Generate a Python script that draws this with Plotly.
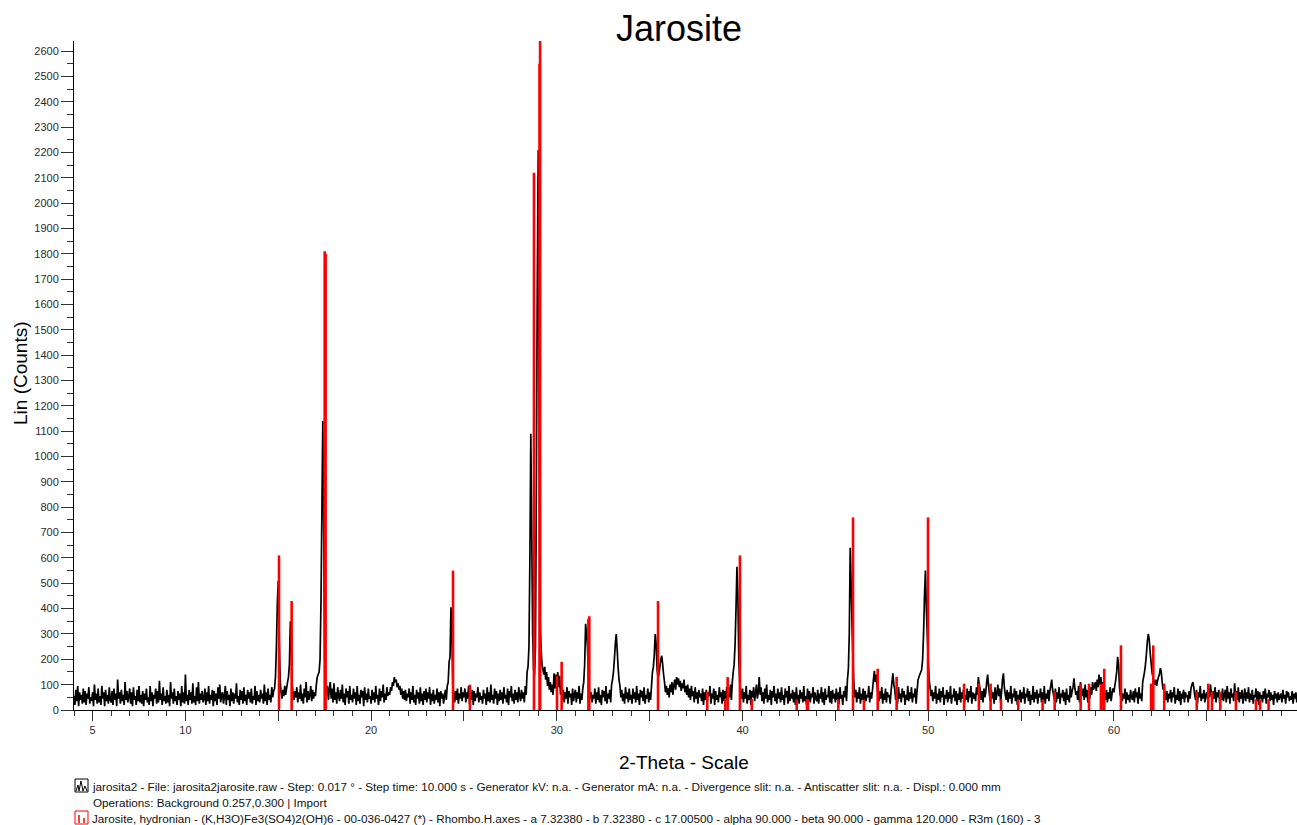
import plotly.graph_objects as go

# ---- measured scan (black trace): counts on a 0.05 deg 2-theta grid, one row per degree ----
scan_start = 4.0
scan_step = 0.05
count_rows = [
    [55, 20, 80, 35, 95, 15, 70, 40, 60, 25, 85, 30, 75, 20, 65, 45, 90, 25, 50, 35],            # 4
    [70, 15, 100, 40, 65, 25, 85, 30, 55, 20, 95, 45, 70, 15, 80, 35, 60, 25, 90, 40],           # 5
    [30, 75, 20, 85, 40, 65, 15, 120, 45, 70, 25, 80, 35, 60, 20, 110, 40, 75, 30, 55],          # 6
    [85, 25, 70, 15, 90, 40, 55, 20, 80, 35, 95, 30, 60, 25, 75, 15, 65, 40, 85, 30],            # 7
    [50, 20, 95, 35, 70, 15, 60, 45, 85, 25, 75, 30, 115, 40, 65, 20, 90, 35, 55, 25],           # 8
    [80, 30, 60, 15, 110, 45, 70, 25, 85, 35, 55, 20, 75, 40, 65, 15, 95, 30, 70, 25],           # 9
    [140, 35, 60, 20, 80, 40, 70, 25, 105, 30, 55, 20, 90, 35, 110, 25, 65, 40, 75, 30],         # 10
    [45, 85, 20, 70, 35, 95, 25, 60, 40, 80, 15, 75, 35, 65, 20, 90, 45, 100, 30, 60],           # 11
    [70, 25, 55, 95, 20, 75, 40, 60, 15, 85, 35, 70, 25, 65, 45, 105, 30, 55, 20, 80],           # 12
    [40, 75, 25, 90, 35, 60, 20, 80, 45, 70, 30, 85, 25, 55, 40, 95, 20, 75, 35, 60],            # 13
    [30, 80, 45, 65, 25, 100, 35, 70, 20, 85, 40, 60, 30, 90, 50, 75, 85, 130, 250, 420],        # 14
    [510, 300, 120, 70, 45, 80, 55, 95, 60, 85, 110, 130, 180, 350, 250, 100, 60, 40, 75, 50],   # 15
    [90, 30, 70, 45, 100, 35, 65, 25, 85, 50, 110, 30, 75, 40, 60, 95, 35, 80, 45, 70],          # 16
    [55, 100, 130, 140, 150, 200, 420, 800, 1140, 700, 200, 110, 70, 95, 40, 80, 110, 45, 85, 30],  # 17
    [105, 40, 70, 25, 90, 55, 35, 80, 45, 100, 30, 65, 20, 85, 50, 75, 25, 95, 40, 60],          # 18
    [30, 85, 45, 70, 20, 95, 35, 60, 25, 80, 50, 75, 15, 90, 40, 65, 30, 85, 45, 55],            # 19
    [25, 80, 40, 70, 30, 95, 45, 60, 20, 85, 35, 75, 50, 100, 30, 65, 40, 90, 55, 70],           # 20
    [60, 90, 75, 110, 95, 130, 110, 120, 90, 105, 80, 95, 60, 85, 45, 75, 40, 80, 35, 65],       # 21
    [50, 85, 25, 70, 40, 95, 30, 60, 20, 80, 45, 70, 25, 90, 35, 65, 20, 75, 40, 85],            # 22
    [30, 70, 45, 90, 20, 65, 35, 80, 25, 60, 40, 85, 30, 70, 15, 75, 45, 65, 25, 55],            # 23
    [80, 40, 95, 110, 190, 210, 405, 300, 100, 60, 30, 75, 40, 85, 25, 65, 45, 90, 35, 70],      # 24
    [50, 85, 30, 70, 45, 95, 25, 60, 40, 80, 20, 75, 35, 65, 50, 90, 30, 70, 40, 55],            # 25
    [25, 80, 45, 65, 20, 90, 35, 70, 30, 100, 40, 60, 25, 85, 45, 75, 20, 65, 35, 80],           # 26
    [40, 70, 25, 90, 45, 60, 30, 85, 20, 75, 50, 95, 35, 65, 25, 80, 40, 70, 30, 90],            # 27
    [55, 35, 80, 45, 70, 30, 95, 60, 150, 170, 250, 600, 1090, 700, 300, 160, 135, 250, 900, 1700],  # 28
    [2210, 1200, 350, 250, 180, 160, 140, 170, 120, 150, 95, 130, 80, 110, 70, 100, 60, 145, 85, 140],  # 29
    [70, 150, 90, 135, 60, 95, 40, 80, 30, 70, 45, 90, 25, 75, 50, 65, 20, 85, 35, 60],          # 30
    [80, 30, 70, 45, 95, 25, 65, 40, 85, 110, 180, 340, 300, 250, 150, 80, 45, 70, 30, 60],      # 31
    [45, 85, 25, 70, 40, 90, 30, 60, 20, 80, 50, 75, 35, 95, 25, 65, 45, 80, 30, 100],           # 32
    [120, 150, 200, 260, 300, 240, 170, 120, 95, 50, 80, 35, 65, 25, 90, 45, 70, 30, 85, 40],    # 33
    [60, 25, 85, 45, 70, 30, 95, 40, 65, 20, 80, 50, 75, 35, 90, 25, 60, 45, 85, 30],            # 34
    [70, 40, 95, 150, 170, 220, 300, 260, 160, 130, 140, 170, 200, 214, 180, 140, 110, 70, 95, 60],  # 35
    [85, 50, 100, 70, 110, 60, 95, 120, 80, 130, 100, 125, 90, 115, 75, 105, 85, 120, 70, 95],   # 36
    [60, 100, 50, 85, 40, 95, 55, 75, 30, 90, 45, 70, 25, 80, 50, 65, 35, 85, 20, 70],           # 37
    [40, 80, 30, 70, 55, 95, 25, 65, 45, 85, 20, 75, 40, 60, 30, 90, 50, 70, 25, 80],            # 38
    [35, 75, 45, 90, 25, 65, 50, 100, 40, 110, 150, 180, 260, 400, 565, 450, 200, 110, 70, 45],  # 39
    [85, 30, 70, 45, 95, 25, 60, 40, 80, 20, 75, 50, 90, 35, 65, 100, 45, 70, 130, 60],          # 40
    [90, 35, 70, 25, 85, 45, 100, 30, 60, 40, 80, 20, 75, 50, 95, 35, 65, 25, 85, 45],           # 41
    [70, 30, 90, 40, 60, 20, 85, 50, 75, 25, 95, 35, 65, 45, 80, 30, 70, 20, 90, 40],            # 42
    [60, 25, 80, 45, 70, 30, 95, 35, 55, 20, 85, 40, 75, 30, 65, 50, 90, 25, 70, 45],            # 43
    [35, 80, 25, 65, 45, 90, 30, 70, 20, 85, 40, 60, 50, 95, 30, 75, 25, 80, 45, 65],            # 44
    [30, 85, 40, 70, 25, 90, 45, 60, 20, 75, 50, 95, 35, 120, 160, 300, 640, 500, 330, 200],     # 45
    [100, 50, 80, 30, 70, 45, 90, 25, 65, 40, 85, 20, 75, 35, 60, 50, 95, 30, 70, 45],           # 46
    [80, 120, 155, 110, 140, 90, 60, 35, 75, 45, 90, 25, 65, 40, 85, 30, 70, 50, 60, 25],        # 47
    [75, 110, 145, 100, 80, 40, 70, 25, 90, 45, 65, 30, 85, 50, 75, 20, 60, 40, 95, 35],         # 48
    [70, 45, 90, 30, 65, 50, 85, 25, 75, 118, 130, 140, 150, 160, 200, 300, 450, 550, 400, 300], # 49
    [200, 120, 90, 55, 80, 35, 70, 45, 95, 25, 65, 40, 85, 30, 75, 50, 90, 20, 60, 45],          # 50
    [80, 30, 70, 45, 95, 25, 60, 50, 85, 35, 75, 20, 65, 40, 90, 30, 70, 45, 80, 25],            # 51
    [60, 40, 85, 30, 75, 50, 95, 25, 70, 45, 65, 35, 90, 60, 130, 100, 80, 40, 75, 30],          # 52
    [85, 50, 70, 110, 140, 95, 60, 35, 80, 45, 70, 25, 90, 40, 65, 100, 55, 85, 30, 70],         # 53
    [120, 145, 90, 60, 40, 80, 30, 70, 45, 95, 25, 65, 50, 85, 35, 75, 20, 60, 40, 80],          # 54
    [30, 70, 45, 90, 25, 65, 50, 85, 35, 75, 20, 60, 40, 95, 30, 70, 45, 80, 25, 65],            # 55
    [50, 85, 30, 70, 40, 95, 25, 65, 45, 80, 35, 75, 95, 120, 80, 60, 40, 85, 30, 70],           # 56
    [45, 90, 25, 65, 50, 80, 35, 70, 20, 85, 40, 60, 30, 95, 50, 75, 90, 125, 85, 60],           # 57
    [75, 40, 95, 30, 110, 70, 55, 85, 40, 100, 50, 80, 30, 75, 45, 90, 60, 110, 80, 95],         # 58
    [110, 75, 120, 90, 140, 100, 130, 85, 110, 70, 60, 40, 80, 30, 70, 45, 90, 35, 65, 85],      # 59
    [70, 95, 120, 150, 210, 180, 90, 55, 75, 35, 65, 45, 85, 25, 70, 40, 60, 30, 80, 50],        # 60
    [40, 75, 30, 85, 50, 70, 25, 90, 45, 65, 35, 110, 130, 150, 180, 220, 270, 300, 280, 230],   # 61
    [190, 150, 130, 110, 100, 120, 95, 115, 130, 140, 165, 150, 110, 80, 95, 60, 40, 75, 30, 65],  # 62
    [45, 80, 30, 70, 50, 90, 25, 60, 40, 85, 35, 75, 20, 65, 45, 80, 30, 70, 50, 60],            # 63
    [30, 75, 45, 85, 100, 110, 90, 60, 40, 80, 25, 70, 50, 95, 35, 65, 45, 80, 30, 60],          # 64
    [70, 40, 85, 50, 100, 65, 35, 75, 45, 90, 30, 70, 50, 80, 25, 65, 40, 85, 35, 60],           # 65
    [80, 30, 95, 45, 70, 25, 85, 50, 65, 35, 105, 60, 75, 40, 90, 30, 70, 45, 80, 25],           # 66
    [55, 85, 35, 70, 45, 90, 30, 65, 40, 80, 25, 60, 50, 85, 35, 75, 20, 70, 45, 60],            # 67
    [30, 75, 45, 85, 25, 65, 50, 80, 35, 70, 40, 60, 20, 75, 45, 65, 30, 70, 40, 55],            # 68
    [65, 30, 80, 45, 60, 25, 75, 50, 70, 35, 55, 40, 75, 25, 65, 45, 70, 30, 60, 50],            # 69
]
for row in count_rows:
    assert len(row) == 20, row
counts = [c for row in count_rows for c in row]
two_theta = [round(scan_start + scan_step * i, 3) for i in range(len(counts))]

# ---- reference card 00-036-0427 (red sticks) ----
ref_pos = [15.04, 15.72, 17.50, 17.55, 24.41, 25.32, 28.77, 29.07, 29.10, 30.01,
           30.26, 31.70, 31.75, 35.45, 38.10, 39.07, 39.20, 39.86, 40.50, 42.92,
           43.47, 43.52, 45.16, 45.95, 46.54, 47.28, 48.30, 49.99, 51.93, 52.73,
           53.36, 53.92, 54.85, 56.16, 56.81, 58.21, 58.66, 59.30, 59.40, 59.48,
           60.38, 62.00, 62.12, 62.71, 64.46, 65.08, 65.28, 65.73, 66.57, 67.65,
           67.87, 68.33]
ref_int = [610, 430, 1810, 1800, 550, 100, 2120, 2550, 2640, 134,
           190, 360, 370, 430, 72, 43, 130, 610, 43, 42,
           42, 42, 42, 760, 42, 163, 131, 760, 104, 104,
           104, 42, 42, 42, 72, 104, 104, 104, 104, 163,
           255, 104, 255, 104, 72, 104, 72, 72, 72, 42,
           42, 42]

x_major = [5, 10, 15, 20, 25, 30, 35, 40, 45, 50, 55, 60, 65]
x_labels = ["5", "10", "", "20", "", "30", "", "40", "", "50", "", "60", ""]
y_major = list(range(0, 2700, 100))

title_text = "Jarosite"
x_title = "2-Theta - Scale"
y_title = "Lin (Counts)"
legend_lines = [
    "jarosita2 - File: jarosita2jarosite.raw - Step: 0.017 ° - Step time: 10.000 s - Generator kV: n.a. - "
    "Generator mA: n.a. - Divergence slit: n.a. - Antiscatter slit: n.a. - Displ.: 0.000 mm",
    "Operations: Background 0.257,0.300 | Import",
    "Jarosite, hydronian - (K,H3O)Fe3(SO4)2(OH)6 - 00-036-0427 (*) - Rhombo.H.axes - a 7.32380 - "
    "b 7.32380 - c 17.00500 - alpha 90.000 - beta 90.000 - gamma 120.000 - R3m (160) - 3",
]

# ---- layout geometry (pixels) ----
W, H = 1297, 825
L, R, T, B = 74, 0, 41, 115
plot_w = W - L - R
plot_h = H - T - B


def px(xp):
    return (xp - L) / plot_w


def py(yp):
    return (H - B - yp) / plot_h


stick_x, stick_y = [], []
for p, h in zip(ref_pos, ref_int):
    stick_x += [p, p, None]
    stick_y += [0, h, None]

fig = go.Figure()
fig.add_trace(go.Scatter(x=two_theta, y=counts, mode="lines",
                         line=dict(color="black", width=1.7, simplify=False),
                         hoverinfo="x+y"))
fig.add_trace(go.Scatter(x=stick_x, y=stick_y, mode="lines",
                         line=dict(color="#ff0000", width=2.6, simplify=False),
                         hoverinfo="skip"))

font_main = "Liberation Sans, Arial, sans-serif"
font_narrow = "Liberation Sans Narrow, Arial Narrow, Liberation Sans, Arial, sans-serif"

annotations = [
    dict(text=y_title, xref="paper", yref="paper", x=px(20), y=py(373), showarrow=False,
         textangle=-90, font=dict(family=font_main, size=19, color="black"),
         xanchor="center", yanchor="middle"),
    dict(text=x_title, xref="paper", yref="paper", x=px(684), y=py(762), showarrow=False,
         font=dict(family=font_main, size=19, color="black"),
         xanchor="center", yanchor="middle"),
]
for txt, xp, yp in zip(legend_lines, [90, 91, 90], [786, 802, 818]):
    annotations.append(dict(text=txt, xref="paper", yref="paper", x=px(xp), y=py(yp),
                            showarrow=False, xanchor="left", yanchor="middle",
                            font=dict(family=font_narrow, size=11.7, color="#111111")))

shapes = []
# legend icon for the measured scan
shapes.append(dict(type="rect", xref="paper", yref="paper",
                   x0=px(75), x1=px(88), y0=py(792), y1=py(779),
                   line=dict(color="black", width=1), fillcolor="white"))
wave = [(76, 791), (78, 785), (79, 791), (81, 781), (83, 791), (85, 786), (87, 791)]
path = "M " + " L ".join(f"{px(a)},{py(b)}" for a, b in wave)
shapes.append(dict(type="path", xref="paper", yref="paper", path=path,
                   line=dict(color="black", width=1)))
# legend icon for the reference card
shapes.append(dict(type="rect", xref="paper", yref="paper",
                   x0=px(75), x1=px(88), y0=py(824), y1=py(811),
                   line=dict(color="#ff0000", width=1), fillcolor="white"))
for xs, ytop in [(79, 815), (84, 818)]:
    shapes.append(dict(type="line", xref="paper", yref="paper",
                       x0=px(xs), x1=px(xs), y0=py(823), y1=py(ytop),
                       line=dict(color="#ff0000", width=1.5)))

fig.update_layout(
    width=W, height=H,
    margin=dict(l=L, r=R, t=T, b=B, pad=0),
    paper_bgcolor="white", plot_bgcolor="white",
    showlegend=False,
    title=dict(text=title_text, x=679 / W, xref="container", xanchor="center",
               y=1 - 28 / H, yref="container", yanchor="middle",
               font=dict(family=font_main, size=36, color="black")),
    annotations=annotations,
    shapes=shapes,
    xaxis=dict(range=[4.0, 69.86], showgrid=False, zeroline=False,
               showline=True, linecolor="black", linewidth=1,
               ticks="outside", ticklen=10, tickwidth=1, tickcolor="#333333",
               tickmode="array", tickvals=x_major, ticktext=x_labels,
               tickfont=dict(family=font_main, size=11, color="#2b2b2b"),
               minor=dict(tickmode="linear", tick0=0, dtick=1, ticks="outside",
                          ticklen=5, tickwidth=1, tickcolor="#333333", showgrid=False)),
    yaxis=dict(range=[0, 2640], showgrid=False, zeroline=False,
               showline=True, linecolor="black", linewidth=1,
               ticks="outside", ticklen=12, tickwidth=1, tickcolor="#333333",
               tickmode="array", tickvals=y_major,
               tickfont=dict(family=font_main, size=11, color="#2b2b2b"),
               minor=dict(tickmode="linear", tick0=0, dtick=50, ticks="outside",
                          ticklen=6, tickwidth=1, tickcolor="#333333", showgrid=False)),
)

fig.write_html("out.html")
